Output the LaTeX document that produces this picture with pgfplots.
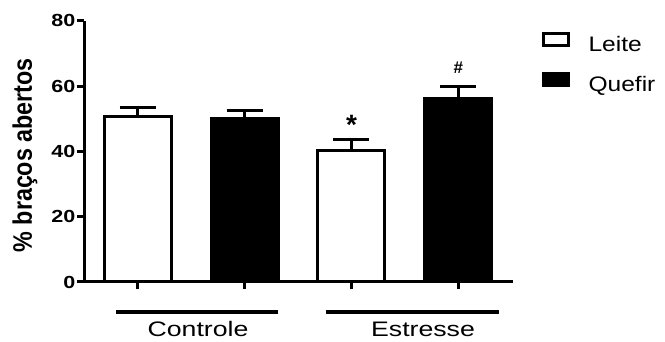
\documentclass[border=0pt]{standalone}
\usepackage{fontspec}
\setmainfont{Liberation Sans}
\usepackage{graphicx}
\usepackage{pgfplots}
\pgfplotsset{compat=1.18}
\newcommand{\hs}[2]{\scalebox{#1}[1]{#2}}
\newcommand{\legtxt}[1]{\fontsize{21}{24}\selectfont\rule[-5pt]{0pt}{20pt}\hs{1.17}{#1}}

\begin{document}
\begin{tikzpicture}
\path[use as bounding box] (-84.5pt,-60pt) rectangle (580.5pt,282pt);
\begin{axis}[
  at={(0pt,0pt)}, anchor=south west,
  scale only axis, width=428.5pt, height=261.3pt,
  xmin=-0.498, xmax=3.511, ymin=0, ymax=80,
  axis x line*=bottom, axis y line*=left,
  axis line style={line width=3pt, black},
  tick style={line width=3pt, black},
  tick align=outside, major tick length=7.5pt,
  xtick={0,1,2,3}, xticklabels={},
  ytick={0,20,40,60,80},
  /pgf/number format/assume math mode=true,
  yticklabel={\hs{1.23}{\fontsize{17.5}{20}\selectfont\bfseries\pgfmathprintnumber{\tick}}},
  yticklabel style={inner sep=1.5pt},
  ylabel={\scalebox{1}[1.15]{\fontsize{23.3}{26}\selectfont\bfseries \% braços abertos}},
  every axis y label/.style={at={(axis description cs:-0.1389,0.485)}, rotate=90, anchor=center},
  clip=false,
  bar width=67pt,
  legend cell align=left,
  legend style={at={(axis description cs:1.067,0.955)}, anchor=north west, draw=none, fill=none,
    inner sep=0pt, outer sep=0pt, row sep=18.5pt, column sep=18.8pt,
    nodes={inner sep=0pt, outer sep=0pt}},
]
\addplot[ybar, bar shift=0pt, fill=white, draw=black, line width=3pt,
  legend image code/.code={\draw[black, fill=white, line width=3pt] (1.5pt,-1pt) rectangle (26.5pt,11pt);},
  error bars/.cd, y dir=plus, y explicit, error mark=-,
  error bar style={line width=3pt, black},
  error mark options={rotate=90, line width=3pt, mark size=18pt, black}]
  coordinates {(0,50.7) +- (0,2.6) (2,40.3) +- (0,3.4)};
\addlegendentry{\legtxt{Leite}}
\addplot[ybar, bar shift=0pt, fill=black, draw=black, line width=3pt,
  legend image code/.code={\draw[black, fill=black, line width=3pt] (1.5pt,-1pt) rectangle (26.5pt,11pt);},
  error bars/.cd, y dir=plus, y explicit, error mark=-,
  error bar style={line width=3pt, black},
  error mark options={rotate=90, line width=3pt, mark size=18pt, black}]
  coordinates {(1,50.0) +- (0,2.6) (3,56.1) +- (0,3.8)};
\addlegendentry{\legtxt{Quefir}}
\addplot[black, line width=3.7pt, mark=none, forget plot] coordinates {(-0.203,-9.09) (1.308,-9.09)};
\addplot[black, line width=3.7pt, mark=none, forget plot] coordinates {(1.761,-9.09) (3.380,-9.09)};
\node[anchor=base, inner sep=0pt, font=\fontsize{21}{24}\selectfont] at (axis cs:0.564,-16.75) {\hs{1.27}{Controle}};
\node[anchor=base, inner sep=0pt, font=\fontsize{21}{24}\selectfont] at (axis cs:2.669,-16.75) {\hs{1.27}{Estresse}};
\node[anchor=north, inner sep=0pt, font=\fontsize{28}{30}\selectfont\bfseries] at (axis cs:2,51.1) {*};
\node[anchor=north, inner sep=0pt, font=\fontsize{17}{19}\selectfont\bfseries] at (axis cs:3,67.3) {\#};
\end{axis}
\end{tikzpicture}
\end{document}
